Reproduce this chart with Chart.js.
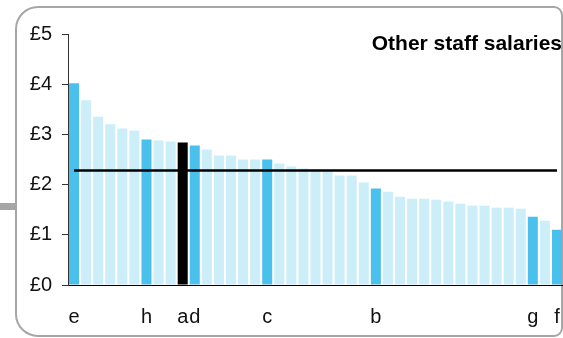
<!DOCTYPE html>
<html>
<head>
<meta charset="utf-8">
<script src="https://cdn.jsdelivr.net/npm/chart.js@4/dist/chart.umd.min.js"></script>
<style>
  html, body { margin: 0; padding: 0; background: #fff; overflow: hidden; }
  #wrap { width: 563px; height: 338px; position: relative; }
</style>
</head>
<body>
<div id="wrap"><canvas id="myChart" width="563" height="338"></canvas></div>
<script>
// Salaries per school, sorted high to low; only a few are named
const labels = ['e', '', '', '', '', '', 'h', '', '', 'a', 'd', '', '', '', '', '', 'c', '', '', '', '',
                '', '', '', '', 'b', '', '', '', '', '', '', '', '', '', '', '', '', 'g', '', 'f'];
const salaries = [4.02, 3.68, 3.35, 3.20, 3.12, 3.08, 2.90, 2.88, 2.86, 2.84, 2.78, 2.70, 2.58, 2.58, 2.50,
                  2.50, 2.50, 2.42, 2.36, 2.32, 2.30, 2.29, 2.18, 2.18, 2.04, 1.92, 1.86, 1.76, 1.72, 1.72,
                  1.70, 1.66, 1.62, 1.58, 1.58, 1.54, 1.54, 1.52, 1.36, 1.28, 1.10];
const average = 2.28;
const yTicks = [0, 1, 2, 3, 4, 5];
const chartTitle = 'Other staff salaries';

const blue = '#4ac1ec';
const lightBlue = '#cceef9';

var barColors = labels.map(l => l === 'a' ? '#000000' : (l ? blue : lightBlue));

// Rounded frame + little grey stub on the left
const framePlugin = {
    id: 'frame',
    beforeDraw(chart) {
        const c = chart.ctx;
        c.save();
        c.fillStyle = '#a6a6a6';
        c.fillRect(0, 203, 15, 7);
        c.strokeStyle = '#a6a6a6';
        c.lineWidth = 2;
        c.beginPath();
        c.roundRect(16, 7, 546, 329, [22, 8, 8, 22]);
        c.stroke();
        c.restore();
    },
    afterDraw(chart) {
        const c = chart.ctx;
        c.save();
        c.font = 'bold 21px "Liberation Sans", Arial, sans-serif';
        c.fillStyle = '#000';
        c.textAlign = 'right';
        c.textBaseline = 'middle';
        c.fillText(chartTitle, 562, 44);
        c.restore();
    }
};

let ctx = document.getElementById('myChart').getContext('2d');
let myChart = new Chart(ctx, {
    type: 'bar',
    data: {
        labels: labels,
        datasets: [
            {
                type: 'line',
                label: 'Average',
                data: labels.map(() => average),
                borderColor: '#000',
                borderWidth: 2.5,
                pointRadius: 0,
                fill: false,
                order: 0
            },
            {
                label: 'Salary',
                data: salaries,
                backgroundColor: barColors,
                borderWidth: 0,
                categoryPercentage: 1.0,
                barPercentage: 0.83,
                order: 1
            }
        ]
    },
    options: {
        responsive: false,
        animation: false,
        devicePixelRatio: 1,
        layout: { padding: { top: 34, right: 0, bottom: 0, left: 0 } },
        plugins: {
            legend: { display: false },
            tooltip: { enabled: false }
        },
        scales: {
            x: {
                grid: { display: false, drawTicks: false },
                border: { display: true, color: '#000', width: 1 },
                ticks: {
                    autoSkip: false,
                    maxRotation: 0,
                    padding: 20,
                    color: '#111',
                    font: { family: '"Liberation Sans", Arial, sans-serif', size: 20 }
                },
                afterFit: function(scale) {
                    scale.height = 53;
                    scale.paddingLeft = 0;
                    scale.paddingRight = 0;
                }
            },
            y: {
                min: 0,
                max: 5,
                afterBuildTicks: function(scale) {
                    scale.ticks = yTicks.map(v => ({ value: v }));
                },
                grid: { drawOnChartArea: false, drawTicks: true, tickLength: 6, color: '#333' },
                border: { display: true, color: '#333', width: 1 },
                ticks: {
                    padding: 10,
                    color: '#111',
                    font: { family: '"Liberation Sans", Arial, sans-serif', size: 20 },
                    callback: function(value) { return '£' + value; }
                },
                afterFit: function(scale) { scale.width = 68; }
            }
        }
    },
    plugins: [framePlugin]
});
</script>
</body>
</html>
